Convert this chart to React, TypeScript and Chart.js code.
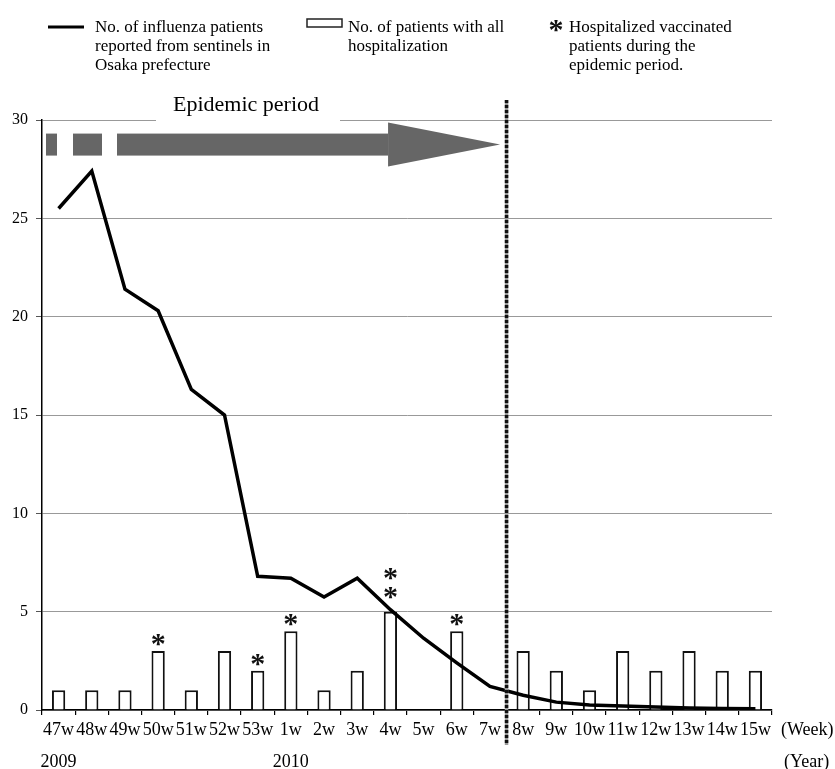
import { useEffect, useRef } from 'react';
import { Chart, registerables } from 'chart.js';

Chart.register(...registerables);

const weeks = ['47w', '48w', '49w', '50w', '51w', '52w', '53w', '1w', '2w', '3w', '4w', '5w', '6w', '7w', '8w', '9w', '10w', '11w', '12w', '13w', '14w', '15w'];
const influenzaPatients = [25.5, 27.4, 21.4, 20.3, 16.3, 15.0, 6.8, 6.7, 5.75, 6.7, 5.1, 3.65, 2.4, 1.2, 0.75, 0.4, 0.25, 0.2, 0.15, 0.1, 0.08, 0.06];
const hospitalizedPatients = [1, 1, 1, 3, 1, 3, 2, 4, 1, 2, 5, 0, 4, 0, 3, 2, 1, 3, 2, 3, 2, 2];
const vaccinatedMarks = [0, 0, 0, 1, 0, 0, 1, 1, 0, 0, 2, 0, 1, 0, 0, 0, 0, 0, 0, 0, 0, 0];
const yearNames = ['2009', '2010'];
const yearStartWeeks = ['47w', '1w'];
const epidemicLastWeek = '7w';
const yMin = 0;
const yMax = 30;
const yStep = 5;
const legendLine = ['No. of influenza patients', 'reported from sentinels in', 'Osaka prefecture'];
const legendBar = ['No. of patients with all', 'hospitalization'];
const legendMark = ['Hospitalized vaccinated', 'patients during the', 'epidemic period.'];
const epidemicTitle = 'Epidemic period';

const SERIF = '"Liberation Serif", "Times New Roman", serif';

function drawStar(ctx: CanvasRenderingContext2D, cx: number, cy: number, size: number) {
  ctx.save();
  ctx.font = `bold ${size}px ${SERIF}`;
  ctx.fillStyle = '#111';
  ctx.textAlign = 'center';
  ctx.textBaseline = 'alphabetic';
  const m = ctx.measureText('*');
  const a = m.actualBoundingBoxAscent;
  const d = m.actualBoundingBoxDescent;
  ctx.fillText('*', cx, cy + (a - d) / 2);
  ctx.restore();
}

const overlayPlugin = {
  id: 'overlay',
  beforeDatasetsDraw(chart: any) {
    const { ctx, chartArea } = chart;
    ctx.save();
    ctx.fillStyle = '#fff';
    ctx.fillRect(156, chartArea.top - 3, 184, 6);
    ctx.fillStyle = '#000';
    ctx.font = `22px ${SERIF}`;
    ctx.textAlign = 'left';
    ctx.textBaseline = 'alphabetic';
    ctx.fillText(epidemicTitle, 173, 111);
    ctx.restore();
  },
  afterDatasetsDraw(chart: any) {
    const { ctx, chartArea, scales } = chart;
    const xs = scales.x;
    const ys = scales.y;
    const endIdx = weeks.indexOf(epidemicLastWeek);
    const dividerX = (xs.getPixelForValue(endIdx) + xs.getPixelForValue(endIdx + 1)) / 2;

    // asterisks
    vaccinatedMarks.forEach((n, i) => {
      if (!n) return;
      const x = xs.getPixelForValue(i);
      const top = ys.getPixelForValue(hospitalizedPatients[i]);
      const start = n > 1 ? 19 : 11;
      for (let k = 0; k < n; k++) drawStar(ctx, x, top - start - k * 19, 30);
    });

    // arrow
    ctx.save();
    ctx.fillStyle = '#666';
    const yc = ys.getPixelForValue(28.75);
    const l = chartArea.left;
    const tip = dividerX - 6.5;
    const headBase = tip - 112;
    ctx.fillRect(l + 4, yc - 11, 11, 22);
    ctx.fillRect(l + 31, yc - 11, 29, 22);
    ctx.fillRect(l + 75, yc - 11, headBase - (l + 75), 22);
    ctx.beginPath();
    ctx.moveTo(headBase, yc - 22);
    ctx.lineTo(tip, yc);
    ctx.lineTo(headBase, yc + 22);
    ctx.closePath();
    ctx.fill();
    ctx.restore();

    // dotted divider
    ctx.save();
    ctx.lineWidth = 3.5;
    ctx.strokeStyle = '#999';
    ctx.beginPath();
    ctx.moveTo(dividerX, 100);
    ctx.lineTo(dividerX, 745);
    ctx.stroke();
    ctx.strokeStyle = '#111';
    ctx.setLineDash([3, 2]);
    ctx.beginPath();
    ctx.moveTo(dividerX, 100);
    ctx.lineTo(dividerX, 745);
    ctx.stroke();
    ctx.restore();

    // year labels and axis units
    ctx.save();
    ctx.fillStyle = '#000';
    ctx.font = `18px ${SERIF}`;
    ctx.textBaseline = 'alphabetic';
    ctx.textAlign = 'center';
    yearNames.forEach((y, k) => {
      const idx = weeks.indexOf(yearStartWeeks[k]);
      ctx.fillText(y, xs.getPixelForValue(idx), 767);
    });
    ctx.textAlign = 'left';
    ctx.fillText('(Week)', chartArea.right + 9, 735);
    ctx.fillText('(Year)', chartArea.right + 12, 767);
    ctx.restore();

    // legend
    ctx.save();
    ctx.strokeStyle = '#000';
    ctx.lineWidth = 3;
    ctx.beginPath();
    ctx.moveTo(48, 27);
    ctx.lineTo(84, 27);
    ctx.stroke();
    ctx.lineWidth = 1.5;
    ctx.strokeStyle = '#222';
    ctx.strokeRect(307, 19, 35, 8);
    drawStar(ctx, 556, 26, 30);
    ctx.fillStyle = '#000';
    ctx.font = `17px ${SERIF}`;
    ctx.textAlign = 'left';
    ctx.textBaseline = 'alphabetic';
    legendLine.forEach((t, k) => ctx.fillText(t, 95, 32 + k * 19));
    legendBar.forEach((t, k) => ctx.fillText(t, 348, 32 + k * 19));
    legendMark.forEach((t, k) => ctx.fillText(t, 569, 32 + k * 19));
    ctx.restore();
  },
};

export default function App() {
  const ref = useRef<HTMLCanvasElement>(null);
  useEffect(() => {
    if (!ref.current) return;
    const chart = new Chart(ref.current, {
      type: 'bar',
      data: {
        labels: weeks,
        datasets: [
          {
            type: 'line',
            label: 'No. of influenza patients reported from sentinels in Osaka prefecture',
            data: influenzaPatients,
            borderColor: '#000',
            borderWidth: 3.5,
            pointRadius: 0,
            tension: 0,
            fill: false,
            order: 0,
          } as any,
          {
            type: 'bar',
            label: 'No. of patients with all hospitalization',
            data: hospitalizedPatients,
            backgroundColor: '#fff',
            borderColor: '#111',
            borderWidth: 2,
            barPercentage: 0.4,
            categoryPercentage: 1,
            order: 1,
          },
        ],
      },
      options: {
        responsive: false,
        animation: false,
        layout: { padding: { top: 120, right: 63, left: 0, bottom: 0 } },
        plugins: { legend: { display: false }, tooltip: { enabled: false } },
        scales: {
          x: {
            offset: true,
            grid: { offset: true, drawOnChartArea: false, tickLength: 5, color: '#000', lineWidth: 1.2 },
            border: { color: '#000', width: 1.5 },
            ticks: { autoSkip: false, maxRotation: 0, minRotation: 0, padding: 4, color: '#000', font: { family: SERIF, size: 18 } },
            afterFit(s: any) {
              s.height = 59;
              s.paddingLeft = 0; s.paddingRight = 0; s.paddingTop = 0; s.paddingBottom = 0;
            },
          },
          y: {
            min: yMin,
            max: yMax,
            ticks: { stepSize: yStep, padding: 8, color: '#000', font: { family: SERIF, size: 16 } },
            grid: { color: '#999', lineWidth: 1, tickLength: 6, tickColor: '#555' },
            border: { color: '#000', width: 1.5 },
            afterFit(s: any) {
              s.width = 42;
              s.paddingLeft = 0; s.paddingRight = 0; s.paddingTop = 0; s.paddingBottom = 0;
            },
          },
        },
      },
      plugins: [overlayPlugin],
    });
    return () => chart.destroy();
  }, []);
  return (
    <div style={{ position: 'absolute', left: 0, top: 0, width: 835, height: 769, background: '#fff' }}>
      <canvas ref={ref} width={835} height={769} style={{ display: 'block' }} />
    </div>
  );
}
